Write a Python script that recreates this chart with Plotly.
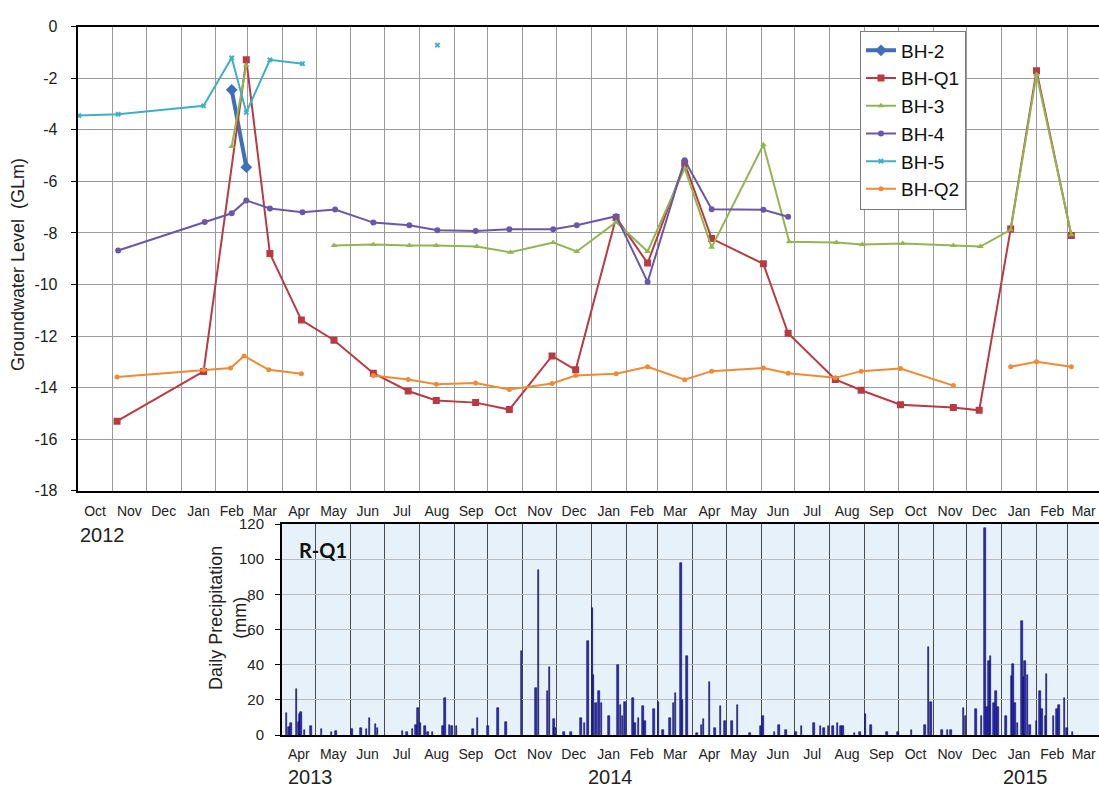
import plotly.graph_objects as go

# ---------------- Groundwater level data (GLm) ----------------
bh2_dates = ["2013-02-15", "2013-02-28"]
bh2_vals = [-2.45, -5.45]

bhq1_dates = ["2012-11-05", "2013-01-21", "2013-02-28", "2013-03-21", "2013-04-18", "2013-05-17",
              "2013-06-21", "2013-07-22", "2013-08-16", "2013-09-20", "2013-10-20", "2013-11-27",
              "2013-12-18", "2014-01-23", "2014-02-20", "2014-03-25", "2014-04-18", "2014-06-03",
              "2014-06-25", "2014-08-06", "2014-08-29", "2014-10-03", "2014-11-19", "2014-12-12",
              "2015-01-09", "2015-02-01", "2015-03-04"]
bhq1_vals = [-15.3, -13.37, -1.29, -8.8, -11.38, -12.16, -13.44, -14.13, -14.5, -14.58, -14.85, -12.77,
             -13.31, -7.4, -9.17, -5.3, -8.22, -9.2, -11.89, -13.68, -14.1, -14.66, -14.77, -14.88,
             -7.85, -1.71, -8.1]

bh3_dates = ["2013-02-15", "2013-02-28", None, "2013-05-17", "2013-06-21", "2013-07-23", "2013-08-16",
             "2013-09-21", "2013-10-21", "2013-11-28", "2013-12-19", "2014-01-23", "2014-02-20",
             "2014-03-25", "2014-04-18", "2014-06-03", "2014-06-26", "2014-08-07", "2014-08-30",
             "2014-10-05", "2014-11-19", "2014-12-13", "2015-01-09", "2015-02-01", "2015-03-04"]
bh3_vals = [-4.65, -1.5, None, -8.49, -8.45, -8.49, -8.49, -8.53, -8.75, -8.37, -8.72, -7.58, -8.72,
            -5.49, -8.56, -4.58, -8.34, -8.37, -8.45, -8.41, -8.49, -8.53, -7.88, -1.86, -8.07]

bh4_dates = ["2012-11-06", "2013-01-22", "2013-02-15", "2013-02-28", "2013-03-21", "2013-04-19",
             "2013-05-18", "2013-06-21", "2013-07-23", "2013-08-17", "2013-09-20", "2013-10-20",
             "2013-11-28", "2013-12-19", "2014-01-23", "2014-02-20", "2014-03-25", "2014-04-18",
             "2014-06-03", "2014-06-25"]
bh4_vals = [-8.68, -7.58, -7.24, -6.74, -7.05, -7.2, -7.09, -7.6, -7.7, -7.9, -7.93, -7.86,
            -7.86, -7.7, -7.35, -9.9, -5.18, -7.08, -7.1, -7.37]

bh5_dates = ["2012-10-02", "2012-11-06", "2013-01-21", "2013-02-15", "2013-02-28", "2013-03-21",
             "2013-04-19", None, "2013-08-17"]
bh5_vals = [-3.45, -3.4, -3.07, -1.21, -3.33, -1.29, -1.44, None, -0.72]

bhq2_dates = ["2012-11-05", "2013-01-21", "2013-02-14", "2013-02-26", "2013-03-20", "2013-04-18", None,
              "2013-06-21", "2013-07-22", "2013-08-16", "2013-09-20", "2013-10-20", "2013-11-27",
              "2013-12-18", "2014-01-23", "2014-02-20", "2014-03-25", "2014-04-18", "2014-06-03",
              "2014-06-25", "2014-08-06", "2014-08-29", "2014-10-03", "2014-11-19", None,
              "2015-01-09", "2015-02-01", "2015-03-04"]
bhq2_vals = [-13.59, -13.31, -13.24, -12.77, -13.31, -13.46, None, -13.53, -13.68, -13.87, -13.82,
             -14.07, -13.84, -13.53, -13.46, -13.19, -13.69, -13.36, -13.24, -13.44, -13.62, -13.36,
             -13.26, -13.92, None, -13.19, -13.0, -13.19]

# ---------------- Daily precipitation at R-Q1 (mm) ----------------
precip_dates = [
    "2013-04-05", "2013-04-07", "2013-04-09", "2013-04-14", "2013-04-16", "2013-04-17", "2013-04-18",
    "2013-04-21", "2013-04-27", "2013-05-06", "2013-05-15", "2013-05-19", "2013-06-02", "2013-06-10",
    "2013-06-15", "2013-06-18", "2013-06-23", "2013-06-25", "2013-07-17", "2013-07-21", "2013-07-26",
    "2013-07-29", "2013-07-31", "2013-08-02", "2013-08-06", "2013-08-09", "2013-08-13", "2013-08-22",
    "2013-08-24", "2013-08-28", "2013-08-30", "2013-09-03", "2013-09-18", "2013-09-22", "2013-10-01",
    "2013-10-10", "2013-10-17", "2013-10-31", "2013-11-13", "2013-11-15", "2013-11-23", "2013-11-25",
    "2013-11-29", "2013-11-30", "2013-12-08", "2013-12-14", "2013-12-23", "2013-12-26", "2013-12-29",
    "2014-01-02", "2014-01-03", "2014-01-05", "2014-01-08", "2014-01-10", "2014-01-17", "2014-01-25",
    "2014-01-27", "2014-01-29", "2014-01-31", "2014-02-07", "2014-02-09", "2014-02-12", "2014-02-16",
    "2014-02-18", "2014-02-26", "2014-03-02", "2014-03-06", "2014-03-12", "2014-03-15", "2014-03-17",
    "2014-03-22", "2014-03-23", "2014-03-27", "2014-04-05", "2014-04-09", "2014-04-11", "2014-04-16",
    "2014-04-21", "2014-04-26", "2014-04-30", "2014-05-06", "2014-05-11", "2014-05-22", "2014-06-01",
    "2014-06-03", "2014-06-13", "2014-06-17", "2014-06-23", "2014-07-02", "2014-07-07", "2014-07-18",
    "2014-07-24", "2014-07-27", "2014-07-31", "2014-08-04", "2014-08-08", "2014-08-11", "2014-08-13",
    "2014-08-23", "2014-08-28", "2014-09-02", "2014-09-07", "2014-09-21", "2014-10-01", "2014-10-13",
    "2014-10-25", "2014-10-28", "2014-10-30", "2014-11-09", "2014-11-14", "2014-11-17", "2014-11-28",
    "2014-11-30", "2014-12-09", "2014-12-14", "2014-12-17", "2014-12-19", "2014-12-21", "2014-12-22",
    "2014-12-25", "2014-12-27", "2014-12-29", "2015-01-05", "2015-01-10", "2015-01-11", "2015-01-13",
    "2015-01-15", "2015-01-19", "2015-01-21", "2015-01-22", "2015-01-24", "2015-01-26", "2015-02-01",
    "2015-02-04", "2015-02-06", "2015-02-09", "2015-02-10", "2015-02-16", "2015-02-19", "2015-02-21",
    "2015-02-26", "2015-02-28", "2015-03-05"]
precip_mm = [
    12.8, 4.4, 7, 26, 7.5, 12, 13,
    3, 5, 3.5, 2, 2.5, 3.5, 4,
    3.5, 10, 6.5, 4, 2.5, 1.5, 3.5,
    6, 15.5, 7, 5, 2, 2, 5,
    21, 6, 5, 5, 3.5, 10, 5,
    15.5, 7.5, 48, 27, 94, 25, 38.7,
    9, 4, 2, 2, 10, 7, 53.5,
    72, 34, 18.3, 25, 18, 11, 39.6,
    17, 11, 19, 21, 7, 10, 16.5,
    8, 15, 19, 3, 10, 18, 24,
    97.6, 20, 45, 1, 6, 9, 30,
    4, 16.5, 8, 8, 17, 1, 5,
    11, 2, 6, 3, 2, 5, 7,
    5, 4, 5, 5, 7, 5, 5,
    1, 2, 12, 6, 2, 2, 3,
    6, 50, 19, 3, 3, 3, 15.5,
    11, 15, 11, 118, 16, 42, 45,
    18, 25, 16, 11, 33.5, 40.5, 18,
    7, 65, 33, 42, 34, 6, 8,
    25, 15, 11, 35, 11, 15, 17,
    21, 4, 2]

# ---------------- Axis labels ----------------
gw_yticks = [0, -2, -4, -6, -8, -10, -12, -14, -16, -18]
gw_yticktext = ["0", "-2", "-4", "-6", "-8", "-10", "-12", "-14", "-16", "-18"]
pr_yticks = [0, 20, 40, 60, 80, 100, 120]
year_labels = ["2012", "2013", "2014", "2015"]

FONT = "Arial, Liberation Sans, sans-serif"
W, H = 1099, 794

fig = go.Figure()

series = [
    ("BH-2", bh2_dates, bh2_vals, "#3f6fb8", 4, "diamond", 9),
    ("BH-Q1", bhq1_dates, bhq1_vals, "#b83a42", 2, "square", 7),
    ("BH-3", bh3_dates, bh3_vals, "#93b550", 2, "triangle-up", 6),
    ("BH-4", bh4_dates, bh4_vals, "#6a58a6", 2, "circle", 6),
    ("BH-5", bh5_dates, bh5_vals, "#3fb0c4", 2, "x", 5),
    ("BH-Q2", bhq2_dates, bhq2_vals, "#f08a35", 2, "circle", 5),
]
for name, xs, ys, col, lw, sym, ms in series:
    fig.add_trace(go.Scatter(
        x=xs, y=ys, name=name, mode="lines+markers",
        line=dict(color=col, width=lw),
        marker=dict(symbol=sym, size=ms, color=col),
        connectgaps=False, xaxis="x", yaxis="y"))

fig.add_trace(go.Bar(
    x=precip_dates, y=precip_mm, name="R-Q1", showlegend=False,
    width=86400000 * 1.4,
    marker=dict(color="#2a2ad0", line=dict(color="#0c0c45", width=0.6)),
    xaxis="x2", yaxis="y2"))

x_left_top = 77.7 / W
x_left_bot = 282.0 / W
y_top_top = 1 - 18 / H
y_bot_top = 1 - 493 / H
y_top_bot = 1 - 527 / H
y_bot_bot = 1 - 743 / H
x_end = "2015-03-28 14:00"

common_x = dict(
    type="date", dtick="M1", tick0="2012-10-01", tickformat="%b",
    ticklabelmode="period", showgrid=True, gridwidth=1,
    showline=True, linecolor="black", linewidth=2, mirror=True,
    ticks="", tickfont=dict(family=FONT, size=14, color="#222222"),
    zeroline=False)

fig.update_layout(
    width=W, height=H,
    margin=dict(l=0, r=0, t=0, b=0),
    paper_bgcolor="white",
    plot_bgcolor="white",
    showlegend=True,
    bargap=0,
    xaxis=dict(common_x, domain=[x_left_top, 1], anchor="y", gridcolor="#9a9a9a",
               range=["2012-10-01", x_end], ticklabelstandoff=6),
    yaxis=dict(domain=[y_bot_top, y_top_top], range=[-18, 0], tickvals=gw_yticks,
               ticktext=gw_yticktext,
               showgrid=True, gridcolor="#9a9a9a", gridwidth=1, zeroline=False,
               showline=True, linecolor="black", linewidth=2,
               ticks="outside", ticklen=5, tickcolor="black", ticklabelstandoff=10,
               tickfont=dict(family=FONT, size=16, color="#222222"), anchor="x"),
    xaxis2=dict(common_x, domain=[x_left_bot, 1], anchor="y2", gridcolor="#4a4a4a",
                range=["2013-04-01", x_end], ticklabelstandoff=5),
    yaxis2=dict(domain=[y_bot_bot, y_top_bot], range=[0, 120], tickvals=pr_yticks,
                showgrid=True, gridcolor="#b5bcc2", gridwidth=1, zeroline=False,
                showline=True, linecolor="black", linewidth=2,
                ticks="outside", ticklen=5, tickcolor="black", ticklabelstandoff=8,
                tickfont=dict(family=FONT, size=15, color="#222222"), anchor="x2"),
    legend=dict(x=860 / W, y=1 - 22 / H, xanchor="left", yanchor="top",
                bgcolor="white", bordercolor="#7a7a7a", borderwidth=1,
                font=dict(family=FONT, size=19, color="#111111"),
                tracegroupgap=0, itemwidth=30),
    shapes=[dict(type="rect", xref="x2 domain", yref="y2 domain", x0=0, x1=1, y0=0, y1=1,
                 fillcolor="#e6f1f9", line=dict(width=0), layer="below")],
)

annotations = [
    dict(text="Groundwater Level  (GLm)", x=18 / W, y=1 - 262 / H, textangle=-90,
         font=dict(family=FONT, size=18, color="#222222")),
    dict(text="Daily Precipitation<br>(mm)", x=228 / W, y=1 - 623 / H, textangle=-90,
         font=dict(family=FONT, size=18, color="#222222")),
    dict(text="<b>R-Q1</b>", x=323 / W, y=1 - 554 / H,
         font=dict(family="Lato, Open Sans, sans-serif", size=20, color="#111111")),
    dict(text=year_labels[0], x=102 / W, y=1 - 538 / H, font=dict(family=FONT, size=20, color="#222222")),
]
for a in annotations:
    a.update(yanchor="middle")
for lab, xc in zip(year_labels[1:], [310, 610, 1025]):
    annotations.append(dict(text=lab, x=xc / W, y=0, yanchor="bottom", borderpad=0, yshift=-4,
                            font=dict(family=FONT, size=20, color="#222222")))
for a in annotations:
    a.update(xref="paper", yref="paper", showarrow=False, xanchor="center")
fig.update_layout(annotations=annotations)

fig.write_html("out.html")
